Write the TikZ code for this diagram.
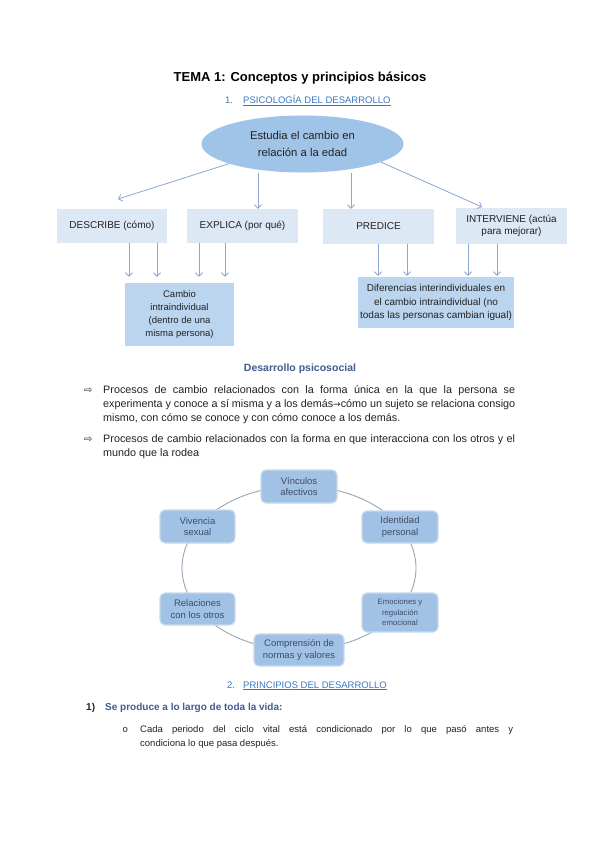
\documentclass[tikz,border=0pt]{standalone}
\usepackage{fontspec}
\setmainfont{Liberation Sans}
\newfontfamily\dejavu{DejaVu Sans}
\usetikzlibrary{shapes.geometric,arrows.meta}
\definecolor{hblue}{HTML}{3A78C0}
\definecolor{sblue}{HTML}{425C8E}
\definecolor{ellfill}{HTML}{A0C3E8}
\definecolor{boxlight}{HTML}{DDE8F5}
\definecolor{boxmid}{HTML}{BCD5EE}
\definecolor{cycfill}{HTML}{A2C2E5}
\definecolor{cycedge}{HTML}{C8DAEE}
\definecolor{cyctext}{HTML}{3E4C66}
\definecolor{arrcol}{HTML}{8EA6D4}
\definecolor{cycline}{HTML}{9AA4B6}
\definecolor{txt}{HTML}{222222}
\newcommand\fsz[2]{\fontsize{#1}{#2}\selectfont}
\begin{document}
\begin{tikzpicture}[x=1pt,y=-1pt,
  txtline/.style={anchor=base west, inner sep=0pt, text=txt, font=\fsz{10.8}{14}},
  toprow/.style={fill=boxlight, minimum height=34pt, align=center, font=\fsz{10}{12.5}, text=txt, inner sep=2pt},
  lowbox/.style={fill=boxmid, align=center, font=\fsz{9.5}{13}, text=txt, inner sep=2pt},
  arr/.style={draw=arrcol, line width=0.8pt, -{Straight Barb[length=3.5pt,width=7pt]}},
  cycbox/.style={rounded corners=5pt, fill=cycfill, draw=cycedge, line width=1.2pt, align=center, text=cyctext, font=\fsz{9.5}{11.5}, inner sep=2pt},
  bulletmark/.style={anchor=base west, inner sep=0pt, font=\dejavu\fsz{10}{12}, text=txt},
  jl/.style={txtline}
]
\useasboundingbox (0,0) rectangle (599,848);
\fill[white] (0,0) rectangle (599,848);

% title and heading
\node[anchor=base, inner sep=0pt, font=\fsz{13}{15}\bfseries] (title) at (300,82) {TEMA 1: Conceptos y principios básicos};
\node[anchor=base west, inner sep=0pt, font=\fsz{9.5}{12}, text=hblue] (h1n) at (225,104) {1.};
\node[anchor=base west, inner sep=0pt, font=\fsz{9.5}{12}, text=hblue] (h1) at (243,104) {\underline{PSICOLOGÍA DEL DESARROLLO}};

% concept map
\node[ellipse, fill=ellfill, minimum width=202pt, minimum height=57pt, inner sep=0pt, align=center, font=\fsz{11.3}{17}, text=txt] (ell) at (302.5,144) {Estudia el cambio en\\relación a la edad};

\node[toprow, minimum width=110pt] (describe) at (112,226) {DESCRIBE (cómo)};
\node[toprow, minimum width=111pt] (explica) at (242.5,226) {EXPLICA (por qué)};
\node[toprow, minimum width=111pt, minimum height=35pt] (predice) at (378.5,226.5) {PREDICE};
\node[toprow, minimum width=111pt, minimum height=36pt] (interviene) at (511.5,226) {INTERVIENE (actúa\\para mejorar)};

\node[lowbox, minimum width=109pt, minimum height=63pt] (cambio) at (179.5,314.5) {Cambio\\intraindividual\\(dentro de una\\misma persona)};
\node[lowbox, minimum width=156pt, minimum height=51pt, font=\fsz{10}{13.5}] (difer) at (436,302.5) {Diferencias interindividuales en\\el cambio intraindividual (no\\todas las personas cambian igual)};

\coordinate (t1) at (118,199);
\coordinate (t4) at (482,207);
\draw[arr] (ell.195) -- (t1);
\draw[arr] ([xshift=-44.5pt]ell.south) -- ([xshift=15.5pt]explica.north);
\draw[arr] ([xshift=48.5pt]ell.south) -- ([xshift=-27.5pt]predice.north);
\draw[arr] (ell.347) -- (t4);

\draw[arr, shorten >=6pt] ([xshift=17pt]describe.south) -- ([xshift=-50.5pt]cambio.north);
\draw[arr, shorten >=6pt] ([xshift=45pt]describe.south) -- ([xshift=-22.5pt]cambio.north);
\draw[arr, shorten >=6pt] ([xshift=-43.5pt]explica.south) -- ([xshift=19.5pt]cambio.north);
\draw[arr, shorten >=6pt] ([xshift=-17.5pt]explica.south) -- ([xshift=45.5pt]cambio.north);

\draw[arr, shorten >=1pt] ([xshift=-0.5pt]predice.south) -- ([xshift=-58pt]difer.north);
\draw[arr, shorten >=1pt] ([xshift=28.5pt]predice.south) -- ([xshift=-29pt]difer.north);
\draw[arr, shorten >=1pt] ([xshift=-43.5pt]interviene.south) -- ([xshift=32pt]difer.north);
\draw[arr, shorten >=1pt] ([xshift=-14.5pt]interviene.south) -- ([xshift=61pt]difer.north);

% Desarrollo psicosocial
\node[anchor=base, inner sep=0pt, font=\fsz{10.5}{13}\bfseries, text=sblue] (dps) at (300,371.5) {Desarrollo psicosocial};

\node[bulletmark] (b1) at (84,393) {⇨};
\node[jl] (l1a) at (103,393) {\makebox[412pt][s]{Procesos de cambio relacionados con la forma única en la que la persona se}};
\node[jl] (l1b) at (103,407) {\makebox[412pt][s]{experimenta y conoce a sí misma y a los demás{\dejavu\fsz{9}{14}→}cómo un sujeto se relaciona consigo}};
\node[jl] (l1c) at (103,421) {mismo, con cómo se conoce y con cómo conoce a los demás.};

\node[bulletmark] (b2) at (84,442) {⇨};
\node[jl] (l2a) at (103,442) {\makebox[412pt][s]{Procesos de cambio relacionados con la forma en que interacciona con los otros y el}};
\node[jl] (l2b) at (103,456) {mundo que la rodea};

% cycle
\draw[cycline, line width=0.9pt] (299,568) ellipse [x radius=117, y radius=82];
\node[cycbox, minimum width=76pt, minimum height=33pt] (vin) at (299,486.5) {Vínculos\\afectivos};
\node[cycbox, minimum width=75pt, minimum height=33pt] (viv) at (197.5,526.5) {Vivencia\\sexual};
\node[cycbox, minimum width=76pt, minimum height=32pt] (ide) at (400,527) {Identidad\\personal};
\node[cycbox, minimum width=75pt, minimum height=32pt] (rel) at (197.5,609) {Relaciones\\con los otros};
\node[cycbox, minimum width=76pt, minimum height=39pt, font=\fsz{7.8}{10.5}] (emo) at (400,612.5) {Emociones y\\regulación\\emocional};
\node[cycbox, minimum width=90pt, minimum height=32pt] (com) at (299,650) {Comprensión de\\normas y valores};

% Principios
\node[anchor=base west, inner sep=0pt, font=\fsz{9.5}{12}, text=hblue] (h2n) at (227,688) {2.};
\node[anchor=base west, inner sep=0pt, font=\fsz{9.5}{12}, text=hblue] (h2) at (243,688) {\underline{PRINCIPIOS DEL DESARROLLO}};

\node[anchor=base west, inner sep=0pt, font=\fsz{10}{12}\bfseries, text=txt] (n1) at (86,710) {1)};
\node[anchor=base west, inner sep=0pt, font=\fsz{10}{12}\bfseries, text=sblue] (p1) at (105,710) {Se produce a lo largo de toda la vida:};

\node[anchor=base west, inner sep=0pt, font=\fsz{9.5}{12}, text=txt] (ob) at (122.5,732) {o};
\node[jl, font=\fsz{9.5}{14}] (l3a) at (140,732) {\makebox[373pt][s]{Cada periodo del ciclo vital está condicionado por lo que pasó antes y}};
\node[jl, font=\fsz{9.5}{14}] (l3b) at (140,746) {condiciona lo que pasa después.};
\end{tikzpicture}
\end{document}
